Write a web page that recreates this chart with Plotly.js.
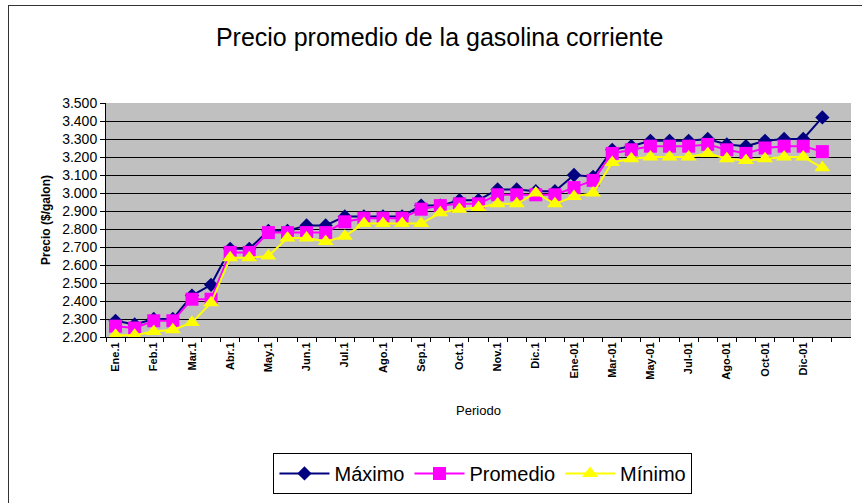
<!DOCTYPE html>
<html>
<head>
<meta charset="utf-8">
<script src="https://cdn.plot.ly/plotly-3.0.1.min.js"></script>
<style>
html,body{margin:0;padding:0;background:#fff;overflow:hidden;}
#wrap{position:relative;width:862px;height:503px;}
#chart{width:862px;height:503px;}
#frame{position:absolute;left:8px;top:5px;width:900px;height:600px;border:1px solid #333;pointer-events:none;}
</style>
</head>
<body>
<div id="wrap"><div id="chart"></div><div id="frame"></div></div>
<script>
// Periods (2000 biweekly, 2001 monthly)
const categories = [
  'Ene.1','Ene.2','Feb.1','Feb.2','Mar.1','Mar.2','Abr.1','Abr.2',
  'May.1','May.2','Jun.1','Jun.2','Jul.1','Jul.2','Ago.1','Ago.2',
  'Sep.1','Sep.2','Oct.1','Oct.2','Nov.1','Nov.2','Dic.1','Dic.2',
  'Ene-01','Feb-01','Mar-01','Abr-01','May-01','Jun-01','Jul-01','Jul-01 (2)',
  'Ago-01','Sep-01','Oct-01','Nov-01','Dic-01','Ene-02'
];
// Prices ($/galon)
const maximo = [
  2.29,2.27,2.30,2.30,2.43,2.49,2.69,2.69,
  2.79,2.79,2.82,2.82,2.87,2.87,2.87,2.87,
  2.93,2.93,2.96,2.96,3.02,3.02,3.01,3.01,
  3.10,3.09,3.24,3.26,3.29,3.29,3.29,3.30,
  3.27,3.26,3.29,3.30,3.30,3.42
];
const promedio = [
  2.26,2.25,2.29,2.29,2.41,2.41,2.67,2.67,
  2.78,2.78,2.78,2.78,2.84,2.86,2.86,2.86,
  2.91,2.93,2.94,2.94,2.99,2.99,2.99,2.99,
  3.03,3.07,3.22,3.24,3.26,3.26,3.26,3.27,
  3.24,3.22,3.25,3.26,3.26,3.23
];
const minimo = [
  2.21,2.21,2.23,2.24,2.28,2.39,2.64,2.64,
  2.65,2.75,2.75,2.73,2.76,2.83,2.83,2.83,
  2.83,2.89,2.91,2.92,2.94,2.94,3.00,2.94,
  2.98,3.00,3.17,3.19,3.20,3.20,3.20,3.22,
  3.19,3.18,3.19,3.20,3.20,3.14
];
// labels shown every second period
const tickText = categories.map((c, i) => (i % 2 === 0 ? c : ''));

const font = 'Liberation Sans, Arial, sans-serif';

const traces = [
  {name:'Máximo', x:categories, y:maximo, type:'scatter', mode:'lines+markers',
   line:{color:'#000080', width:2}, marker:{symbol:'diamond', size:11, color:'#000080'}},
  {name:'Promedio', x:categories, y:promedio, type:'scatter', mode:'lines+markers',
   line:{color:'#FF00FF', width:2}, marker:{symbol:'square', size:13, color:'#FF00FF'}},
  {name:'Mínimo', x:categories, y:minimo, type:'scatter', mode:'lines+markers',
   line:{color:'#FFFF00', width:2}, marker:{symbol:'triangle-up', size:14, color:'#FFFF00'}}
];

const layout = {
  width:862, height:503,
  margin:{l:106, r:11, t:103, b:165},
  paper_bgcolor:'#ffffff',
  plot_bgcolor:'#C0C0C0',
  showlegend:true,
  title:{text:'Precio promedio de la gasolina corriente', font:{family:font, size:25, color:'#000'},
         x:0.51, xref:'container', xanchor:'center', y:0.925, yref:'container', yanchor:'middle'},
  xaxis:{
    type:'category', categoryorder:'array', categoryarray:categories,
    range:[-0.5, 38.5],
    tickvals:categories, ticktext:tickText, tickson:'boundaries',
    ticks:'outside', ticklen:4, tickcolor:'#000', tickangle:-90,
    tickfont:{family:font, size:11, color:'#000', weight:'bold'},
    showline:true, linecolor:'#000', linewidth:1, showgrid:false, zeroline:false,
    title:{text:'Periodo', font:{family:font, size:13, color:'#000'}, standoff:27}
  },
  yaxis:{
    range:[2.2, 3.5], dtick:0.1, tick0:2.2, tickformat:'.3f',
    ticks:'outside', ticklen:5, tickcolor:'#000',
    tickfont:{family:font, size:14, color:'#000'},
    showline:true, linecolor:'#000', linewidth:1,
    showgrid:true, gridcolor:'#000', gridwidth:1, zeroline:false,
    title:{text:'Precio ($/galon)', font:{family:font, size:12, color:'#000', weight:'bold'}, standoff:8}
  },
  legend:{orientation:'h', x:0.506, xanchor:'center', y:-0.489, yanchor:'top',
          bordercolor:'#000', borderwidth:1, bgcolor:'#fff', itemwidth:50,
          font:{family:font, size:20, color:'#000'}}
};

Plotly.newPlot('chart', traces, layout, {displayModeBar:false, staticPlot:true});
</script>
</body>
</html>
